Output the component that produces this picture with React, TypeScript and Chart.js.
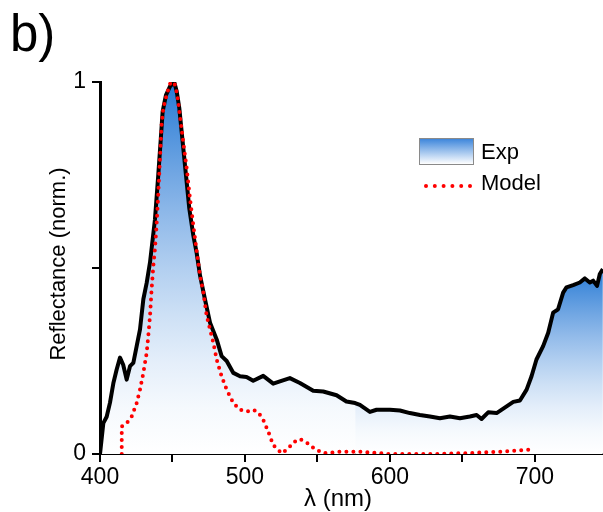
import { useEffect, useRef } from 'react';
import { Chart, registerables } from 'chart.js';

Chart.register(...registerables);

// Experimental reflectance (normalised) vs wavelength (nm)
const expWavelength = [
  400, 402.3, 404.6, 406.9, 409.2, 411.5, 413.8, 416, 418.4, 420.7,
  423, 425.3, 427.6, 429.9, 432.2, 434.5, 437.9, 440.2, 441.8, 443.2,
  445.5, 448.3, 451.2, 452.9, 454.7, 457, 459.3, 461.6, 464.4, 466.7,
  469, 472.4, 475.9, 480.5, 483.9, 487.4, 492, 496.6, 501.1, 505.7,
  512.6, 519.5, 524.1, 531, 537.9, 547.1, 554, 563.2, 570, 576,
  579.3, 586.2, 590.8, 600, 606.9, 613.8, 620.7, 627.6, 634.5, 641.4,
  648.3, 655.2, 659.8, 663.2, 667.8, 673.6, 680.5, 685.1, 689.7, 694.3,
  697.7, 701.1, 705.7, 709.2, 712.6, 716, 719.5, 721.8, 726.4, 731,
  734.5, 737.9, 740.2, 742.9, 744.8, 746.9,
];
const expReflectance = [
  0, 0.083, 0.1, 0.138, 0.19, 0.227, 0.259, 0.24, 0.2, 0.236,
  0.245, 0.29, 0.335, 0.416, 0.46, 0.515, 0.63, 0.75, 0.84, 0.92,
  0.965, 0.988, 1.0, 0.975, 0.93, 0.84, 0.75, 0.66, 0.587, 0.54,
  0.48, 0.416, 0.353, 0.308, 0.263, 0.25, 0.218, 0.209, 0.207, 0.197,
  0.21, 0.189, 0.195, 0.204, 0.191, 0.17, 0.168, 0.158, 0.141, 0.137,
  0.132, 0.113, 0.119, 0.119, 0.117, 0.11, 0.105, 0.101, 0.096, 0.101,
  0.096, 0.101, 0.105, 0.094, 0.112, 0.11, 0.128, 0.14, 0.144, 0.173,
  0.209, 0.254, 0.29, 0.326, 0.38, 0.389, 0.434, 0.448, 0.454, 0.461,
  0.472, 0.461, 0.466, 0.452, 0.484, 0.497,
];

// Model reflectance
const modelWavelength = [
  415, 415, 418.4, 421.8, 425.3, 427.6, 429.9, 432.2, 433.3, 434.5,
  435.6, 436.8, 437.9, 439, 440.2, 441.4, 442.5, 443.7, 446, 448.3,
  451.2, 453.3, 455.2, 457.4, 459.8, 462.1, 464.4, 466.7, 469, 471.3,
  473.6, 475.9, 478.2, 480.5, 483.9, 487.4, 492, 496.6, 501.1, 505.7,
  509.2, 512.6, 516.1, 519.5, 525.3, 529.9, 533.3, 537.9, 542.5, 545.9,
  549.4, 554, 565, 579, 600, 634, 657, 680, 694, 700,
];
const modelReflectance = [
  0, 0.074, 0.083, 0.1, 0.137, 0.173, 0.218, 0.272, 0.317, 0.371,
  0.443, 0.506, 0.551, 0.614, 0.7, 0.795, 0.885, 0.93, 0.966, 0.995,
  1.0, 0.966, 0.907, 0.84, 0.768, 0.686, 0.614, 0.545, 0.48, 0.434,
  0.371, 0.335, 0.299, 0.254, 0.209, 0.173, 0.137, 0.119, 0.114, 0.119,
  0.112, 0.092, 0.06, 0.024, 0.002, 0.015, 0.031, 0.04, 0.031, 0.02,
  0.011, 0.002, 0.006, 0.006, 0, 0, 0.003, 0.007, 0.011, 0.013,
];

const xTickValues = [400, 450, 500, 550, 600, 650, 700];
const xTickLabels = ['400', '', '500', '', '600', '', '700'];
const yTickValues = [0, 0.5, 1];
const yTickLabels = ['0', '', '1'];
const xMin = 400;
const xMax = 747;
const splitWavelength = 576; // the shaded area is made of two pieces
const leftFillTop = 1;
const rightFillTop = 0.5;

const FONT = '"Liberation Sans", Arial, Helvetica, sans-serif';
const BLUE = [38, 120, 212];

function mix(f: number) {
  const c = BLUE.map((b) => Math.round(255 + f * (b - 255)));
  return `rgb(${c[0]},${c[1]},${c[2]})`;
}

function makeGradient(chart: any, topValue: number) {
  const { ctx, chartArea, scales } = chart;
  if (!chartArea) return 'rgba(0,0,0,0)';
  const yTop = scales.y.getPixelForValue(topValue);
  const yBot = scales.y.getPixelForValue(0);
  const g = ctx.createLinearGradient(0, yTop, 0, yBot);
  for (let i = 0; i <= 8; i++) {
    const p = i / 8;
    const v = 1 - p;
    g.addColorStop(p, mix(Math.pow(v, 1.5)));
  }
  return g;
}

const pts = (xs: number[], ys: number[]) => xs.map((x, i) => ({ x, y: ys[i] }));

export default function App() {
  const ref = useRef<HTMLCanvasElement | null>(null);

  useEffect(() => {
    if (!ref.current) return;
    const all = pts(expWavelength, expReflectance);
    const leftFill = all.filter((p) => p.x <= splitWavelength);
    const rightFill = all.filter((p) => p.x >= splitWavelength);

    const overlay = {
      id: 'overlay',
      afterDraw(chart: any) {
        const c = chart.ctx as CanvasRenderingContext2D;
        c.save();
        c.fillStyle = '#000';
        c.textAlign = 'left';
        c.textBaseline = 'alphabetic';
        c.font = `51px ${FONT}`;
        c.fillText('b)', 10, 51);

        // axis titles
        c.font = `24px ${FONT}`;
        c.textAlign = 'center';
        c.fillText('λ (nm)', 338, 506);
        c.font = `22px ${FONT}`;
        c.save();
        c.translate(65, 264);
        c.rotate(-Math.PI / 2);
        c.fillText('Reflectance (norm.)', 0, 0);
        c.restore();

        // legend
        const lg = c.createLinearGradient(0, 138, 0, 164);
        lg.addColorStop(0, 'rgb(55,130,218)');
        lg.addColorStop(1, 'rgb(255,255,255)');
        c.fillStyle = lg;
        c.fillRect(419.5, 138.5, 54, 26);
        c.strokeStyle = '#8a8a8a';
        c.lineWidth = 1;
        c.strokeRect(419.5, 138.5, 54, 26);
        c.fillStyle = '#ff0000';
        for (let i = 0; i < 6; i++) {
          c.beginPath();
          c.arc(426 + i * 8.8, 186, 2, 0, Math.PI * 2);
          c.fill();
        }
        c.fillStyle = '#000';
        c.textAlign = 'left';
        c.fillText('Exp', 481, 159);
        c.fillText('Model', 481, 189.5);
        c.restore();
      },
    };

    const chart = new Chart(ref.current, {
      type: 'line',
      data: {
        datasets: [
          {
            label: 'Model',
            data: pts(modelWavelength, modelReflectance),
            borderColor: '#ff0000',
            borderWidth: 4,
            borderDash: [0, 7],
            borderCapStyle: 'round',
            pointRadius: 0,
            fill: false,
            tension: 0,
            order: 0,
          },
          {
            label: 'Exp',
            data: all,
            borderColor: '#000',
            borderWidth: 4,
            borderJoinStyle: 'round',
            pointRadius: 0,
            fill: false,
            tension: 0,
            order: 1,
          },
          {
            label: 'fill-left',
            data: leftFill,
            borderWidth: 0,
            borderColor: 'rgba(0,0,0,0)',
            backgroundColor: (ctx: any) => makeGradient(ctx.chart, leftFillTop),
            pointRadius: 0,
            fill: 'origin',
            tension: 0,
            order: 2,
          },
          {
            label: 'fill-right',
            data: rightFill,
            borderWidth: 0,
            borderColor: 'rgba(0,0,0,0)',
            backgroundColor: (ctx: any) => makeGradient(ctx.chart, rightFillTop),
            pointRadius: 0,
            fill: 'origin',
            tension: 0,
            order: 3,
          },
        ],
      },
      options: {
        responsive: false,
        animation: false,
        events: [],
        layout: { padding: { top: 82, left: 0, right: 0, bottom: 0 } },
        plugins: {
          legend: { display: false },
          tooltip: { enabled: false },
          title: { display: false },
        },
        scales: {
          x: {
            type: 'linear',
            min: xMin,
            max: xMax,
            afterFit: (s: any) => {
              s.height = 58;
            },
            afterBuildTicks: (s: any) => {
              s.ticks = xTickValues.map((v) => ({ value: v }));
            },
            ticks: {
              color: '#000',
              font: { family: FONT, size: 23 },
              padding: 2,
              maxRotation: 0,
              autoSkip: false,
              callback: (v: any) => xTickLabels[xTickValues.indexOf(Number(v))] ?? '',
            },
            grid: {
              display: true,
              drawOnChartArea: false,
              drawTicks: true,
              tickLength: 8,
              color: '#000',
              lineWidth: 2,
            },
            border: { display: true, color: '#000', width: 2 },
          },
          y: {
            type: 'linear',
            min: 0,
            max: 1,
            afterFit: (s: any) => {
              s.width = 100;
            },
            afterBuildTicks: (s: any) => {
              s.ticks = yTickValues.map((v) => ({ value: v }));
            },
            ticks: {
              color: '#000',
              font: { family: FONT, size: 23 },
              padding: 6,
              autoSkip: false,
              callback: (v: any) => yTickLabels[yTickValues.indexOf(Number(v))] ?? '',
            },
            grid: {
              display: true,
              drawOnChartArea: false,
              drawTicks: true,
              tickLength: 8,
              color: '#000',
              lineWidth: 2,
            },
            border: { display: true, color: '#000', width: 3 },
          },
        },
      },
      plugins: [overlay],
    } as any);

    return () => chart.destroy();
  }, []);

  return (
    <div style={{ position: 'fixed', left: 0, top: 0, width: 603, height: 512, background: '#fff' }}>
      <canvas ref={ref} width={603} height={512} style={{ display: 'block' }} />
    </div>
  );
}
